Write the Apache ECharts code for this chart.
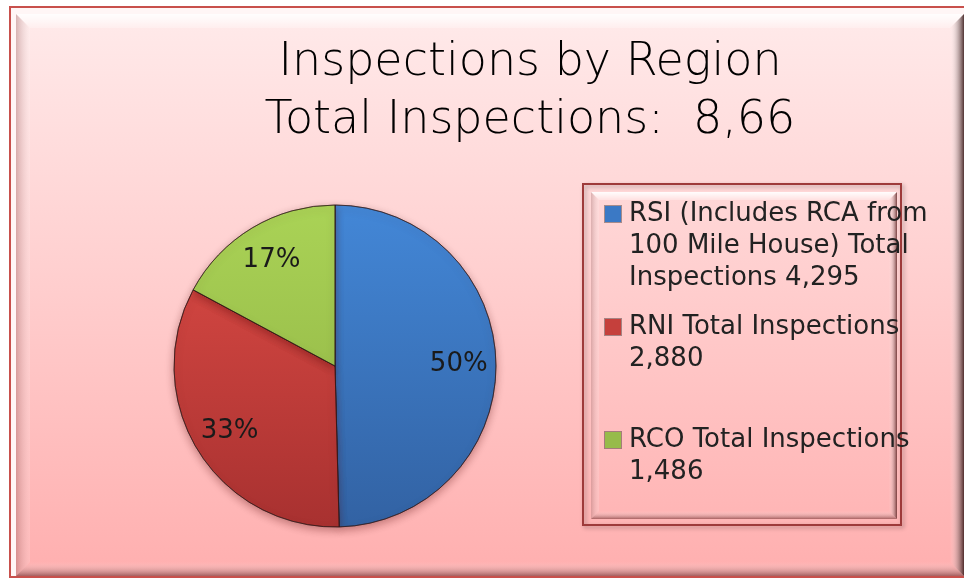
<!DOCTYPE html>
<html>
<head>
<meta charset="utf-8">
<script src="https://cdn.jsdelivr.net/npm/echarts@6/dist/echarts.min.js"></script>
<style>
  html, body { margin: 0; padding: 0; background: #fff; }
  #chart { width: 964px; height: 579px; }
</style>
</head>
<body>
<div id="chart"></div>
<script>
const regions = ['RSI (Includes RCA from 100 Mile House)', 'RNI', 'RCO']
const inspections = [4295, 2880, 1486]
// legend text as it wraps in the original
const legendLines = [
  ['RSI (Includes RCA from', '100 Mile House) Total', 'Inspections 4,295'],
  ['RNI Total Inspections', '2,880', ''],
  ['RCO Total Inspections', '1,486']
]
const titleText = 'Inspections by Region\nTotal Inspections:  8,661'

const sliceColors = [
  ['#4387d7', '#3262a3'],
  ['#de4c46', '#a83130'],
  ['#aad356', '#8dae42']
]
const iconColors = ['#3b79c5', '#c5403c', '#97bb4a']
const font = 'DejaVu Sans'

const chart = echarts.init(document.getElementById('chart'))

// pie geometry
const cx = 335, cy = 366, r = 161

const grad = (c) => ({
  type: 'linear', x: 0, y: cy - r, x2: 0, y2: cy + r, global: true,
  colorStops: [{offset: 0, color: c[0]}, {offset: 1, color: c[1]}]
})

// bevelled frame helper
const bevel = (L, T, R, B, b, light, side, dark, darker) => [
  {type: 'polygon', silent: true, shape: {points: [[L, T], [R, T], [R - b, T + b], [L + b, T + b]]},
    style: {fill: {type: 'linear', x: 0, y: 0, x2: 0, y2: 1, colorStops: [{offset: 0, color: light}, {offset: 1, color: 'rgba(255,255,255,0.25)'}]}}},
  {type: 'polygon', silent: true, shape: {points: [[L, T], [L + b, T + b], [L + b, B - b], [L, B]]},
    style: {fill: {type: 'linear', x: 0, y: 0, x2: 1, y2: 0, colorStops: [{offset: 0, color: side}, {offset: 1, color: 'rgba(255,255,255,0.15)'}]}}},
  {type: 'polygon', silent: true, shape: {points: [[L, B], [L + b, B - b], [R - b, B - b], [R, B]]},
    style: {fill: {type: 'linear', x: 0, y: 0, x2: 0, y2: 1, colorStops: [{offset: 0, color: 'rgba(255,255,255,0)'}, {offset: 1, color: dark}]}}},
  {type: 'polygon', silent: true, shape: {points: [[R, T], [R, B], [R - b, B - b], [R - b, T + b]]},
    style: {fill: {type: 'linear', x: 0, y: 0, x2: 1, y2: 0, colorStops: [{offset: 0, color: 'rgba(255,255,255,0)'}, {offset: 1, color: darker}]}}}
]

const rich = {
  t: {fontFamily: font, fontSize: 26, color: '#222', lineHeight: 32},
  gap: {width: 8, lineHeight: 32},
  ind: {width: 24, lineHeight: 32}
}
iconColors.forEach((c, i) => {
  rich['sq' + i] = {width: 16, height: 16, backgroundColor: c, borderColor: 'rgba(0,0,0,0.35)', borderWidth: 1, lineHeight: 32}
})

chart.setOption({
  backgroundColor: '#ffffff',
  title: {
    text: titleText,
    left: 530,
    top: 34,
    padding: 0,
    textAlign: 'center',
    textStyle: {
      fontFamily: font,
      fontWeight: 200,
      fontSize: 46,
      lineHeight: 58,
      color: '#000',
      width: 548,
      overflow: 'truncate',
      ellipsis: ''
    }
  },
  graphic: {
    elements: [
      {type: 'rect', silent: true, z: -10, shape: {x: 10, y: 7, width: 970, height: 570},
        style: {fill: '#fff6f6', stroke: '#c8504c', lineWidth: 2}},
      {type: 'rect', silent: true, z: -9, shape: {x: 16, y: 14, width: 960, height: 562},
        style: {fill: {type: 'linear', x: 0, y: 0, x2: 0, y2: 1, colorStops: [
          {offset: 0, color: '#ffeaea'}, {offset: 0.5, color: '#ffcdcd'}, {offset: 1, color: '#ffafaf'}]}}},
      ...bevel(16, 14, 964, 576, 14, 'rgba(255,255,255,0.95)', 'rgba(140,80,80,0.35)', 'rgba(90,30,30,0.55)', 'rgba(50,20,20,0.85)').map(e => Object.assign(e, {z: -8})),
      {type: 'rect', silent: true, z: -7, shape: {x: 583, y: 184, width: 318, height: 341},
        style: {fill: 'rgba(0,0,0,0)', stroke: '#9e3a3a', lineWidth: 2, shadowBlur: 4, shadowOffsetX: 2, shadowOffsetY: 2, shadowColor: 'rgba(0,0,0,0.3)'}},
      ...bevel(591, 192, 897, 519, 8, 'rgba(255,255,255,0.95)', 'rgba(150,100,100,0.35)', 'rgba(110,40,40,0.6)', 'rgba(90,30,30,0.8)').map(e => Object.assign(e, {z: -6}))
    ]
  },
  legend: {
    orient: 'vertical',
    left: 600,
    top: 201,
    padding: 0,
    itemGap: 23,
    itemWidth: 0,
    itemHeight: 0,
    icon: 'none',
    selectedMode: false,
    data: regions,
    formatter: (name) => {
      const i = regions.indexOf(name)
      return legendLines[i].map((line, j) =>
        (j === 0 ? '{sq' + i + '|}{gap|}' : '{ind|}') + '{t|' + line + '}'
      ).join('\n')
    },
    textStyle: {rich}
  },
  series: [
    {
      type: 'pie',
      name: 'Inspections',
      center: [cx, cy],
      radius: r,
      startAngle: 90,
      clockwise: true,
      silent: true,
      label: {show: false},
      labelLine: {show: false},
      itemStyle: {
        borderColor: 'rgba(40,20,20,0.55)',
        borderWidth: 1,
        shadowBlur: 8,
        shadowOffsetY: 3,
        shadowColor: 'rgba(80,0,0,0.35)'
      },
      data: regions.map((name, i) => ({
        name,
        value: inspections[i],
        itemStyle: {color: grad(sliceColors[i])}
      }))
    },
    {
      // transparent copy so the percent labels sit at about 3/4 of the radius
      type: 'pie',
      name: 'labels',
      center: [cx, cy],
      radius: [0, r * 1.5],
      startAngle: 90,
      clockwise: true,
      silent: true,
      percentPrecision: 0,
      itemStyle: {color: 'rgba(0,0,0,0)', borderWidth: 0},
      label: {
        show: true,
        position: 'inside',
        formatter: '{d}%',
        fontFamily: font,
        fontSize: 26,
        color: '#1a1a1a'
      },
      labelLine: {show: false},
      data: regions.map((name, i) => ({name, value: inspections[i]}))
    }
  ]
})
</script>
</body>
</html>
